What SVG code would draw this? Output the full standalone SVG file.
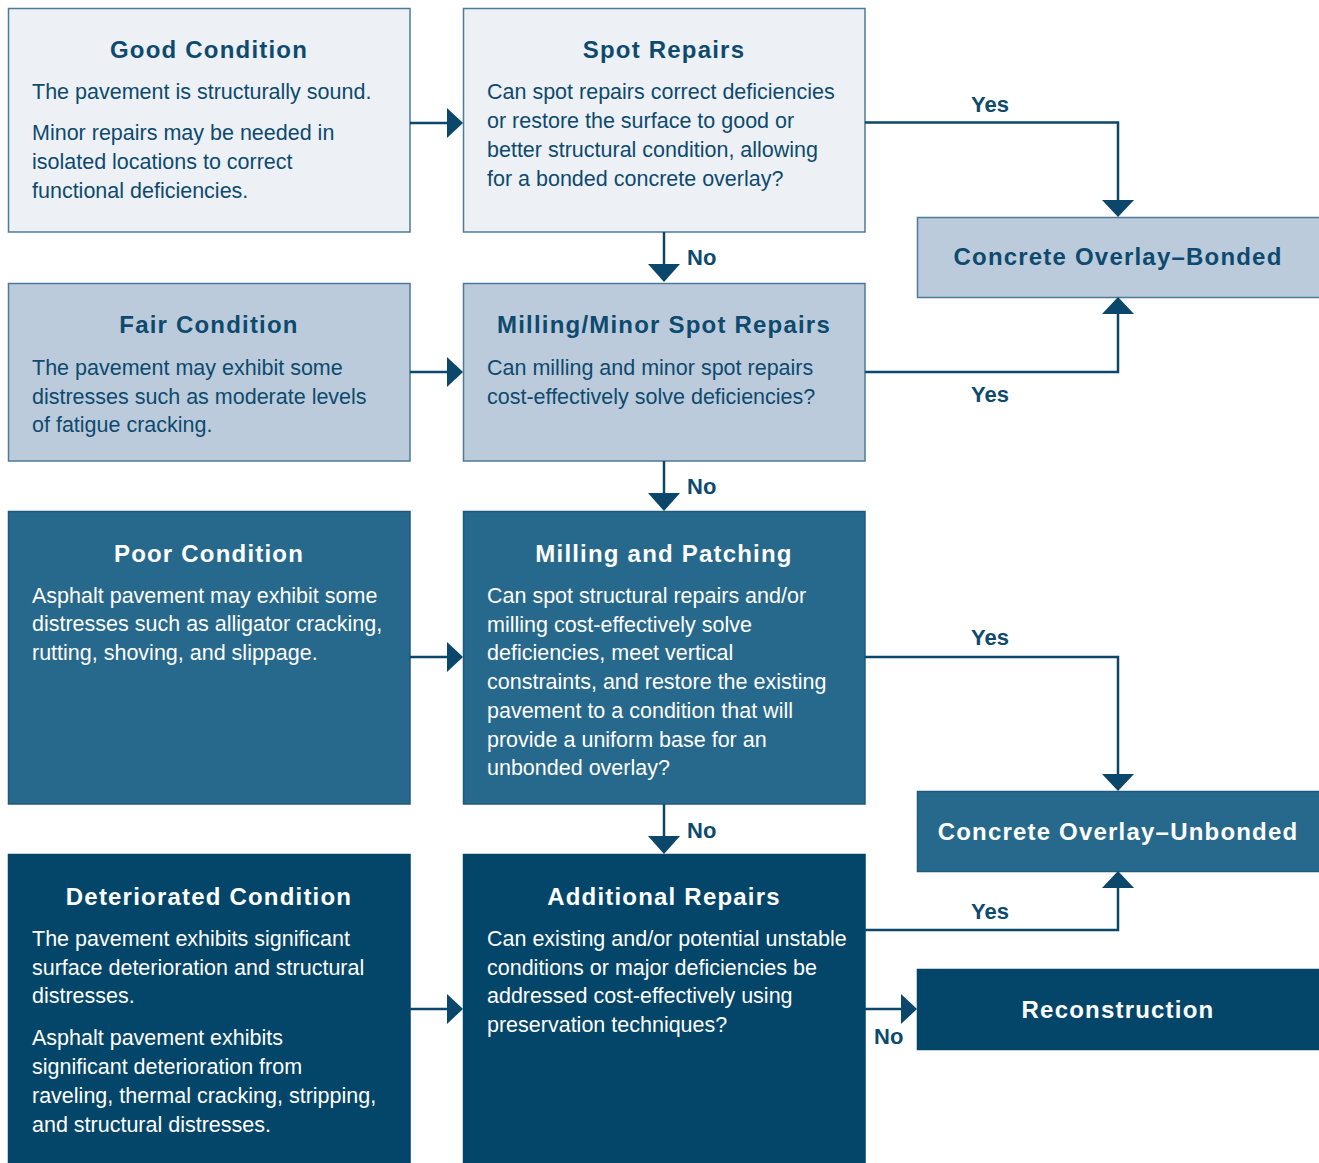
<svg xmlns="http://www.w3.org/2000/svg" width="1319" height="1163" viewBox="0 0 1319 1163">
<defs>
<style>
.box{stroke:#4d7a99;stroke-width:1.5}
.l1{fill:#edf1f6}
.l2{fill:#bccbdb}
.l3{fill:#27698c;stroke:#1f5a7c}
.l4{fill:#03466a;stroke:#03466a}
.t{font-family:"Liberation Sans",Arial,sans-serif;font-weight:bold;font-size:24px;letter-spacing:1.2px;text-anchor:middle}
.b{font-family:"Liberation Sans",Arial,sans-serif;font-size:21.5px}
.dk{fill:#0d4a6e}
.wt{fill:#ffffff}
.lab{font-family:"Liberation Sans",Arial,sans-serif;font-weight:bold;font-size:22px;fill:#0d4a6e}
.cn{fill:none;stroke:#0b466b;stroke-width:2.5}
.ah{fill:#0b466b}
</style>
</defs>
<g id="good">
<rect class="box l1" x="8.5" y="8.5" width="401.5" height="223.5"/>
<text class="t dk" x="209" y="58">Good Condition</text>
<text class="b dk" x="32" y="99">The pavement is structurally sound.</text>
<text class="b dk" x="32" y="140">Minor repairs may be needed in</text>
<text class="b dk" x="32" y="169">isolated locations to correct</text>
<text class="b dk" x="32" y="198">functional deficiencies.</text>
</g>
<g id="fair">
<rect class="box l2" x="8.5" y="283.5" width="401.5" height="177.5"/>
<text class="t dk" x="209" y="333">Fair Condition</text>
<text class="b dk" x="32" y="375">The pavement may exhibit some</text>
<text class="b dk" x="32" y="404">distresses such as moderate levels</text>
<text class="b dk" x="32" y="432">of fatigue cracking.</text>
</g>
<g id="poor">
<rect class="box l3" x="8.5" y="511.5" width="401.5" height="292.5"/>
<text class="t wt" x="209" y="562">Poor Condition</text>
<text class="b wt" x="32" y="603">Asphalt pavement may exhibit some</text>
<text class="b wt" x="32" y="631">distresses such as alligator cracking,</text>
<text class="b wt" x="32" y="660">rutting, shoving, and slippage.</text>
</g>
<g id="deteriorated">
<rect class="box l4" x="8.5" y="854.5" width="401.5" height="310"/>
<text class="t wt" x="209" y="905">Deteriorated Condition</text>
<text class="b wt" x="32" y="946">The pavement exhibits significant</text>
<text class="b wt" x="32" y="975">surface deterioration and structural</text>
<text class="b wt" x="32" y="1003">distresses.</text>
<text class="b wt" x="32" y="1045">Asphalt pavement exhibits</text>
<text class="b wt" x="32" y="1074">significant deterioration from</text>
<text class="b wt" x="32" y="1103">raveling, thermal cracking, stripping,</text>
<text class="b wt" x="32" y="1132">and structural distresses.</text>
</g>
<g id="spot">
<rect class="box l1" x="463.5" y="8.5" width="401.5" height="223.5"/>
<text class="t dk" x="664" y="58">Spot Repairs</text>
<text class="b dk" x="487" y="99">Can spot repairs correct deficiencies</text>
<text class="b dk" x="487" y="128">or restore the surface to good or</text>
<text class="b dk" x="487" y="157">better structural condition, allowing</text>
<text class="b dk" x="487" y="186">for a bonded concrete overlay?</text>
</g>
<g id="milling-minor">
<rect class="box l2" x="463.5" y="283.5" width="401.5" height="177.5"/>
<text class="t dk" x="664" y="333">Milling/Minor Spot Repairs</text>
<text class="b dk" x="487" y="375">Can milling and minor spot repairs</text>
<text class="b dk" x="487" y="404">cost-effectively solve deficiencies?</text>
</g>
<g id="milling-patching">
<rect class="box l3" x="463.5" y="511.5" width="401.5" height="292.5"/>
<text class="t wt" x="664" y="562">Milling and Patching</text>
<text class="b wt" x="487" y="603">Can spot structural repairs and/or</text>
<text class="b wt" x="487" y="632">milling cost-effectively solve</text>
<text class="b wt" x="487" y="660">deficiencies, meet vertical</text>
<text class="b wt" x="487" y="689">constraints, and restore the existing</text>
<text class="b wt" x="487" y="718">pavement to a condition that will</text>
<text class="b wt" x="487" y="747">provide a uniform base for an</text>
<text class="b wt" x="487" y="775">unbonded overlay?</text>
</g>
<g id="additional">
<rect class="box l4" x="463.5" y="854.5" width="401.5" height="310"/>
<text class="t wt" x="664" y="905">Additional Repairs</text>
<text class="b wt" x="487" y="946">Can existing and/or potential unstable</text>
<text class="b wt" x="487" y="975">conditions or major deficiencies be</text>
<text class="b wt" x="487" y="1003">addressed cost-effectively using</text>
<text class="b wt" x="487" y="1032">preservation techniques?</text>
</g>
<g id="bonded">
<rect class="box l2" x="917.5" y="217.5" width="403" height="80"/>
<text class="t dk" x="1118" y="265">Concrete Overlay–Bonded</text>
</g>
<g id="unbonded">
<rect class="box l3" x="917.5" y="791.5" width="403" height="80"/>
<text class="t wt" x="1118" y="840">Concrete Overlay–Unbonded</text>
</g>
<g id="reconstruction">
<rect class="box l4" x="917.5" y="969.5" width="403" height="80"/>
<text class="t wt" x="1118" y="1018">Reconstruction</text>
</g>
<g id="connectors">
<path class="cn" d="M410 123H449"/><path class="ah" d="M447 108L463 123L447 138Z"/>
<path class="cn" d="M410 372H449"/><path class="ah" d="M447 357L463 372L447 387Z"/>
<path class="cn" d="M410 657H449"/><path class="ah" d="M447 642L463 657L447 672Z"/>
<path class="cn" d="M410 1009H449"/><path class="ah" d="M447 994L463 1009L447 1024Z"/>
<path class="cn" d="M664 232V266"/><path class="ah" d="M648 264L664 282L680 264Z"/>
<path class="cn" d="M664 461V495"/><path class="ah" d="M648 493L664 511L680 493Z"/>
<path class="cn" d="M664 804V838"/><path class="ah" d="M648 836L664 854L680 836Z"/>
<path class="cn" d="M865 122.5H1118V202"/><path class="ah" d="M1102 200L1118 217L1134 200Z"/>
<path class="cn" d="M865 372H1118V312"/><path class="ah" d="M1102 314L1118 297L1134 314Z"/>
<path class="cn" d="M865 657H1118V776"/><path class="ah" d="M1102 774L1118 791L1134 774Z"/>
<path class="cn" d="M865 930H1118V886"/><path class="ah" d="M1102 888L1118 871L1134 888Z"/>
<path class="cn" d="M865 1009H903"/><path class="ah" d="M901 994L917 1009L901 1024Z"/>
<text class="lab" x="971" y="112">Yes</text>
<text class="lab" x="971" y="402">Yes</text>
<text class="lab" x="971" y="645">Yes</text>
<text class="lab" x="971" y="919">Yes</text>
<text class="lab" x="687" y="265">No</text>
<text class="lab" x="687" y="494">No</text>
<text class="lab" x="687" y="838">No</text>
<text class="lab" x="874" y="1044">No</text>
</g>
</svg>
